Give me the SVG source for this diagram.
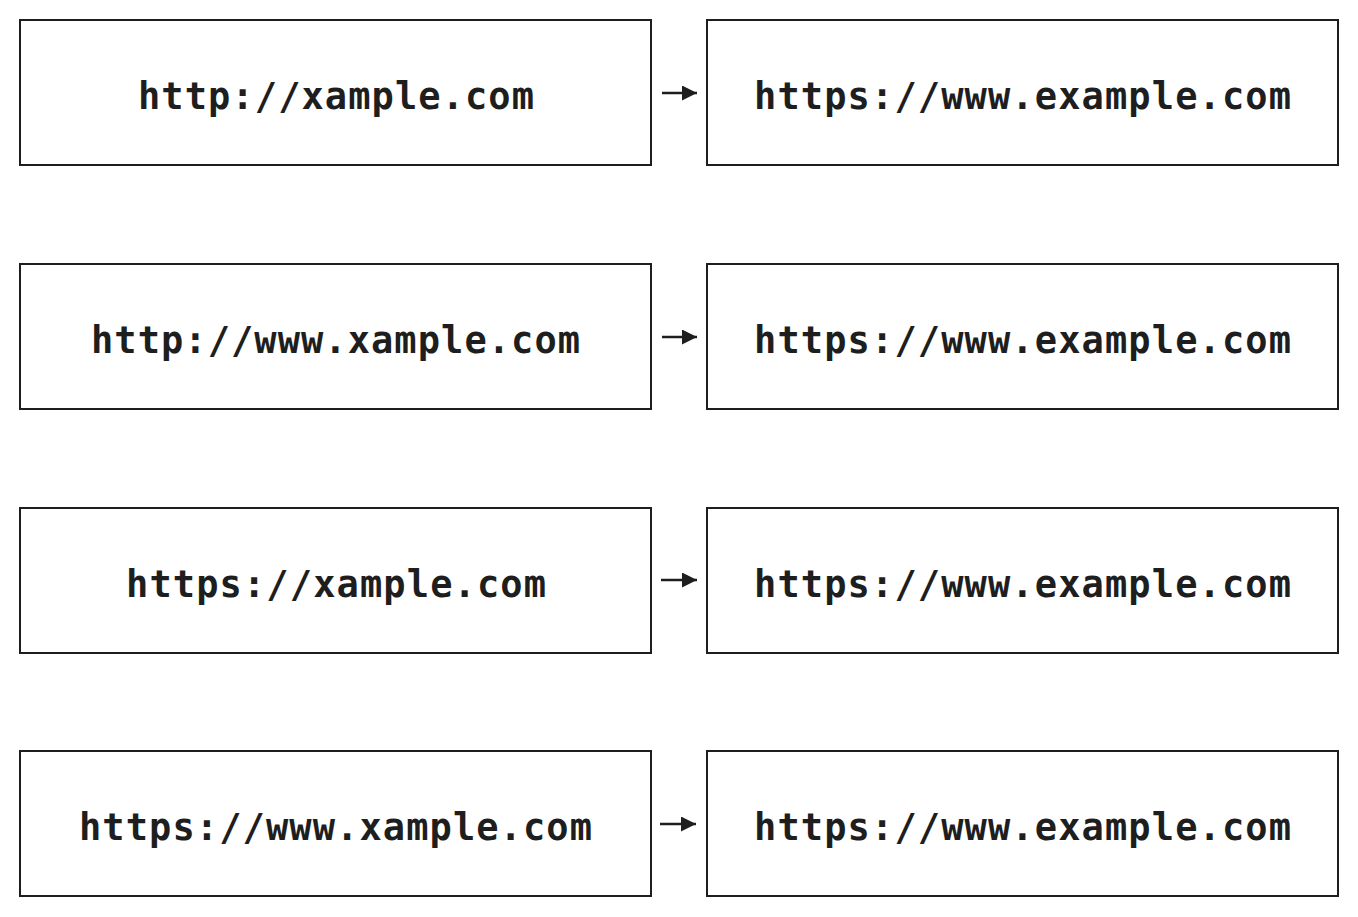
<svg xmlns="http://www.w3.org/2000/svg" width="1358" height="917" viewBox="0 0 1358 917">
<defs>
<style>
.box{fill:#fff;stroke:#1e1e1e;stroke-width:2}
.lbl{font-family:"DejaVu Sans Mono","Liberation Mono",monospace;font-weight:bold;font-size:37px;fill:#1e1e1e;text-anchor:middle}
.conn{stroke:#1e1e1e;stroke-width:2.5;fill:none}
</style>
<marker id="ah" viewBox="0 0 10 10" refX="10" refY="5" markerUnits="userSpaceOnUse" markerWidth="18" markerHeight="15" orient="auto">
<path d="M0,0 L10,5 L0,10 Z" fill="#1e1e1e"/>
</marker>
</defs>
<rect width="1358" height="917" fill="#fff"/>
<g id="n1"><rect class="box" x="20" y="20" width="631" height="145"/><text class="lbl" x="336" y="109" textLength="396" lengthAdjust="spacing">http://xample.com</text></g>
<g id="n2"><rect class="box" x="707" y="20" width="631" height="145"/><text class="lbl" x="1022.5" y="109" textLength="537" lengthAdjust="spacing">https://www.example.com</text></g>
<g id="n3"><rect class="box" x="20" y="264" width="631" height="145"/><text class="lbl" x="335.5" y="353" textLength="489" lengthAdjust="spacing">http://www.xample.com</text></g>
<g id="n4"><rect class="box" x="707" y="264" width="631" height="145"/><text class="lbl" x="1022.5" y="353" textLength="537" lengthAdjust="spacing">https://www.example.com</text></g>
<g id="n5"><rect class="box" x="20" y="508" width="631" height="145"/><text class="lbl" x="336" y="597" textLength="420" lengthAdjust="spacing">https://xample.com</text></g>
<g id="n6"><rect class="box" x="707" y="508" width="631" height="145"/><text class="lbl" x="1022.5" y="597" textLength="537" lengthAdjust="spacing">https://www.example.com</text></g>
<g id="n7"><rect class="box" x="20" y="751" width="631" height="145"/><text class="lbl" x="335.5" y="840" textLength="513" lengthAdjust="spacing">https://www.xample.com</text></g>
<g id="n8"><rect class="box" x="707" y="751" width="631" height="145"/><text class="lbl" x="1022.5" y="840" textLength="537" lengthAdjust="spacing">https://www.example.com</text></g>
<g id="connectors">
<line class="conn" x1="662" y1="93" x2="697" y2="93" marker-end="url(#ah)"/>
<line class="conn" x1="662" y1="337" x2="697" y2="337" marker-end="url(#ah)"/>
<line class="conn" x1="661" y1="580" x2="697" y2="580" marker-end="url(#ah)"/>
<line class="conn" x1="660" y1="824" x2="696" y2="824" marker-end="url(#ah)"/>
</g>
</svg>
